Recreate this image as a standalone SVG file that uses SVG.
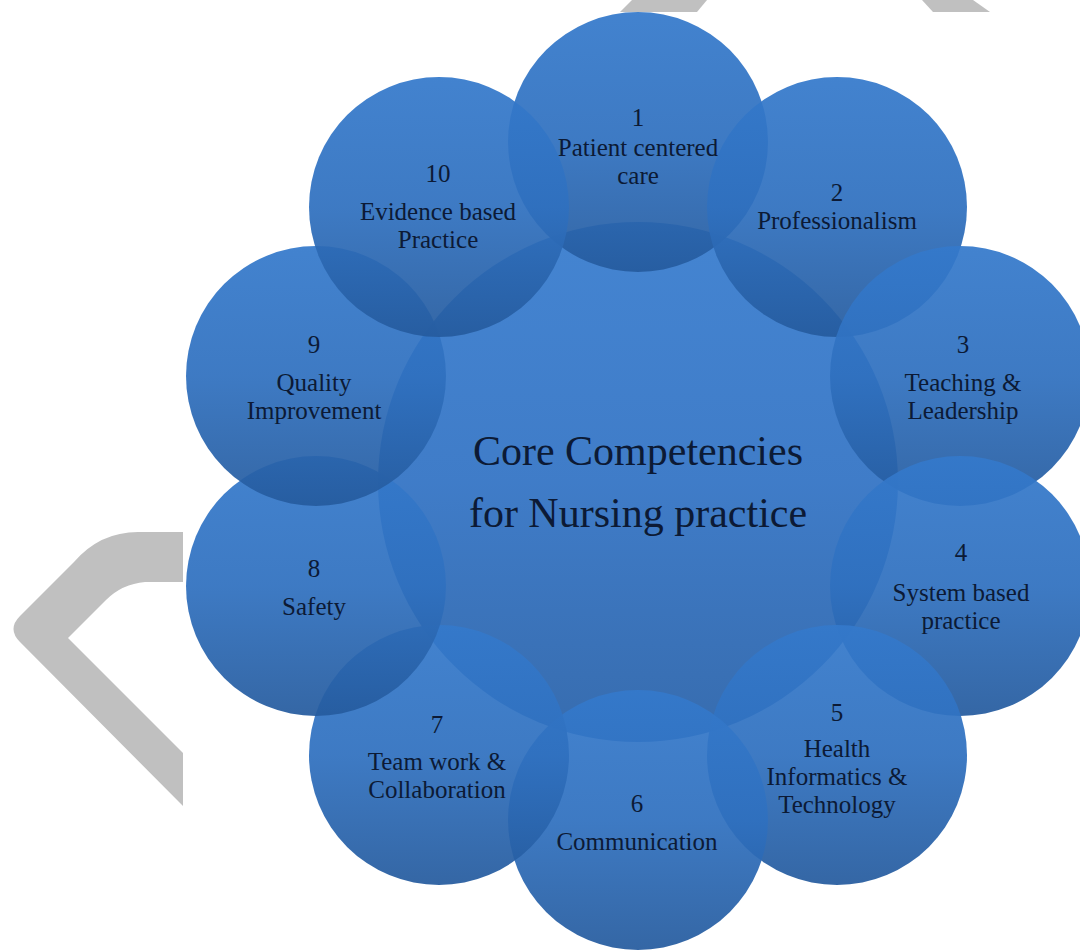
<svg xmlns="http://www.w3.org/2000/svg" width="1080" height="951" viewBox="0 0 1080 951">
<defs>
<linearGradient id="g" x1="0" y1="0" x2="0" y2="1">
<stop offset="0" stop-color="#3479cb"/>
<stop offset="0.5" stop-color="#2f70bf"/>
<stop offset="1" stop-color="#255b9e"/>
</linearGradient>
<linearGradient id="gc" x1="0" y1="0" x2="0" y2="1">
<stop offset="0" stop-color="#3a7ecf"/>
<stop offset="0.5" stop-color="#3575c5"/>
<stop offset="1" stop-color="#2c64aa"/>
</linearGradient>
</defs>
<style>
.c{fill:url(#g);fill-opacity:0.93}
.cc{fill:url(#gc);fill-opacity:0.95}
.t{font-family:"Liberation Serif","Times New Roman",serif;font-size:25px;fill:#0c1a35;text-anchor:middle}
.tc{font-family:"Liberation Serif","Times New Roman",serif;font-size:42px;fill:#0c1a35;text-anchor:middle}
.wm{fill:#c0c0c0}
</style>
<rect width="1080" height="951" fill="#ffffff"/>
<g id="watermark">
<path class="wm" d="M183 532 L138 532 Q100 532 74 562 L20 616 Q7 629 20 642 L183 806 L183 753 L68 638 L106 600 Q122 584 145 582 L183 582 Z"/>
<polygon class="wm" points="632,0 707,0 697,12 620,12"/>
<polygon class="wm" points="922,0 973,0 990,12 933,12"/>
</g>
<g id="connectors"/>
<g id="center">
<circle class="cc" cx="638" cy="482" r="260"/>
<text class="tc" x="638" y="465">Core Competencies</text>
<text class="tc" x="638" y="527">for Nursing practice</text>
</g>
<g id="node1"><circle class="c" cx="638" cy="142" r="130"/>
<text class="t" x="638" y="126">1</text><text class="t" x="638" y="156">Patient centered</text><text class="t" x="638" y="184">care</text></g>
<g id="node2"><circle class="c" cx="837" cy="207" r="130"/>
<text class="t" x="837" y="201">2</text><text class="t" x="837" y="229">Professionalism</text></g>
<g id="node3"><circle class="c" cx="960" cy="376" r="130"/>
<text class="t" x="963" y="353">3</text><text class="t" x="963" y="391">Teaching &amp;</text><text class="t" x="963" y="419">Leadership</text></g>
<g id="node4"><circle class="c" cx="960" cy="586" r="130"/>
<text class="t" x="961" y="561">4</text><text class="t" x="961" y="601">System based</text><text class="t" x="961" y="629">practice</text></g>
<g id="node5"><circle class="c" cx="837" cy="755" r="130"/>
<text class="t" x="837" y="721">5</text><text class="t" x="837" y="757">Health</text><text class="t" x="837" y="785">Informatics &amp;</text><text class="t" x="837" y="813">Technology</text></g>
<g id="node6"><circle class="c" cx="638" cy="820" r="130"/>
<text class="t" x="637" y="812">6</text><text class="t" x="637" y="850">Communication</text></g>
<g id="node7"><circle class="c" cx="439" cy="755" r="130"/>
<text class="t" x="437" y="733">7</text><text class="t" x="437" y="770">Team work &amp;</text><text class="t" x="437" y="798">Collaboration</text></g>
<g id="node8"><circle class="c" cx="316" cy="586" r="130"/>
<text class="t" x="314" y="577">8</text><text class="t" x="314" y="615">Safety</text></g>
<g id="node9"><circle class="c" cx="316" cy="376" r="130"/>
<text class="t" x="314" y="353">9</text><text class="t" x="314" y="391">Quality</text><text class="t" x="314" y="419">Improvement</text></g>
<g id="node10"><circle class="c" cx="439" cy="207" r="130"/>
<text class="t" x="438" y="182">10</text><text class="t" x="438" y="220">Evidence based</text><text class="t" x="438" y="248">Practice</text></g>
</svg>
